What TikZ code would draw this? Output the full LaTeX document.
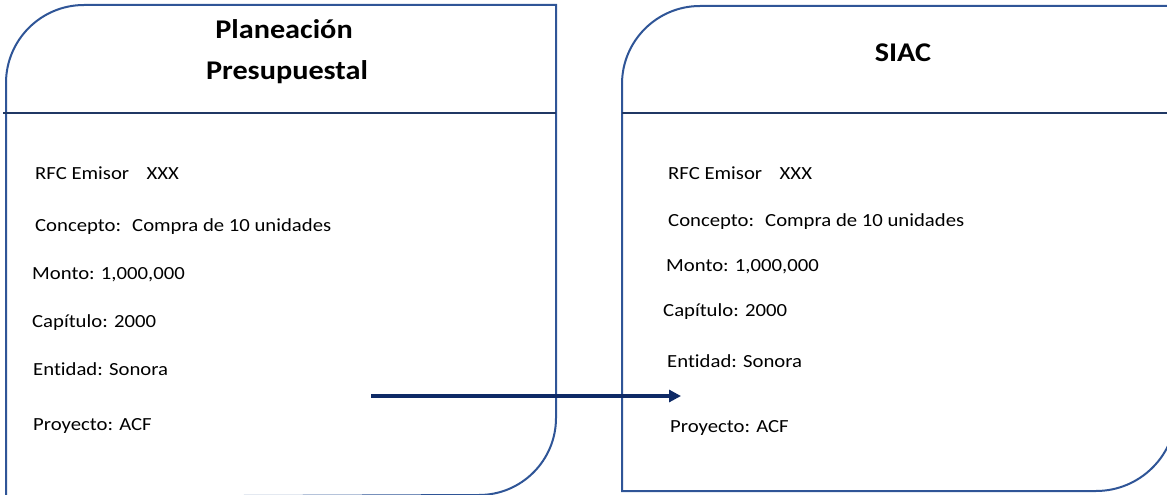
\documentclass[tikz,border=0pt]{standalone}
\usepackage{fontspec}
\setmainfont{Carlito}[FakeStretch=1.12, Ligatures=NoCommon]
\usetikzlibrary{arrows.meta}
\definecolor{boxblue}{HTML}{2F5597}
\definecolor{rulenavy}{HTML}{203864}
\definecolor{arrownavy}{HTML}{0E2A66}
\begin{document}
\begin{tikzpicture}[x=1pt,y=-1pt,
  frame/.style={draw=boxblue, line width=2pt, fill=white},
  headrule/.style={draw=rulenavy, line width=2pt},
  field/.style={anchor=base west, inner sep=0pt, font=\fontsize{18.5}{22}\selectfont},
  title/.style={anchor=base, inner sep=0pt, font=\fontsize{27}{32}\selectfont\bfseries},
  flow/.style={draw=arrownavy, line width=3.4pt, -{Triangle[length=12pt,width=12pt]}}]
\useasboundingbox (0,0) rectangle (1167,495);
\begin{scope}
\clip (0,0) rectangle (1167,495);
% left card: rounded top-left and bottom-right corners
\draw[frame] (6,497) -- (6,83) arc[start angle=180,end angle=270,radius=78]
  -- (556,5) -- (556,418) arc[start angle=0,end angle=90,radius=77] -- cycle;
\draw[headrule] (3,113) -- (556,113);
% right card, running past the right margin
\draw[frame] (622,491) -- (622,84) arc[start angle=180,end angle=270,radius=78]
  -- (1176,6) -- (1176,411) arc[start angle=0,end angle=90,radius=80] -- cycle;
\draw[headrule] (622,113) -- (1180,113);
\end{scope}

% titles
\node[title] (tA1) at (284,39) {Planeación};
\node[title] (tA2) at (287,80) {Presupuestal};
\node[title] (tB) at (903,62) {SIAC};

% fields of the left card
\node[field] (a1) at (35,179.5) {RFC Emisor\hspace{0.95em}XXX};
\node[field] (a2) at (35,231.5) {Concepto:\hspace{0.6em}Compra de 10 unidades};
\node[field] (a3) at (32,279.5) {Monto: 1,000,000};
\node[field] (a4) at (32,327) {Capítulo: 2000};
\node[field] (a5) at (33,375) {Entidad: Sonora};
\node[field] (a6) at (33,430) {Proyecto: ACF};

% fields of the right card
\node[field] (b1) at (668,179.5) {RFC Emisor\hspace{0.95em}XXX};
\node[field] (b2) at (668,226.5) {Concepto:\hspace{0.6em}Compra de 10 unidades};
\node[field] (b3) at (666,271) {Monto: 1,000,000};
\node[field] (b4) at (663,316.5) {Capítulo: 2000};
\node[field] (b5) at (667,367.5) {Entidad: Sonora};
\node[field] (b6) at (670,432) {Proyecto: ACF};

% transfer arrow
\coordinate (src) at (371,396);
\coordinate (dst) at (681,396);
\draw[flow] (src) -- (dst);
\end{tikzpicture}
\end{document}
